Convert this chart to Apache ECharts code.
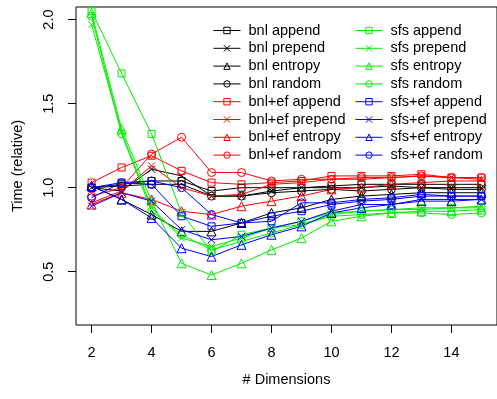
<!DOCTYPE html>
<html>
<head>
<meta charset="utf-8">
<script src="https://cdn.jsdelivr.net/npm/echarts@6/dist/echarts.min.js"></script>
<style>
  html, body { margin: 0; padding: 0; background: #fff; }
  #chart { width: 497px; height: 399px; }
</style>
</head>
<body>
<div id="chart"></div>
<script>
// # Dimensions
const dims = [2, 3, 4, 5, 6, 7, 8, 9, 10, 11, 12, 13, 14, 15];

// relative time per strategy
const bnlAppend    = [1.00, 1.02, 1.04, 1.04, 0.98, 1.00, 1.00, 1.00, 1.01, 1.02, 1.02, 1.02, 1.02, 1.02];
const bnlPrepend   = [1.00, 0.98, 1.11, 1.07, 0.95, 0.95, 0.98, 1.00, 1.00, 1.00, 1.01, 1.00, 1.00, 1.00];
const bnlEntropy   = [1.01, 0.93, 0.84, 0.74, 0.74, 0.79, 0.85, 0.88, 0.93, 0.95, 0.96, 0.97, 0.97, 0.97];
const bnlRandom    = [1.00, 1.01, 1.02, 1.02, 0.95, 0.95, 0.97, 0.98, 0.99, 0.98, 0.99, 1.00, 0.99, 0.99];
const efAppend     = [1.03, 1.12, 1.19, 1.10, 1.03, 1.02, 1.03, 1.04, 1.07, 1.07, 1.07, 1.08, 1.06, 1.06];
const efPrepend    = [0.91, 0.98, 1.13, 1.00, 0.95, 0.96, 1.02, 1.03, 1.05, 1.05, 1.06, 1.07, 1.06, 1.05];
const efEntropy    = [0.90, 0.97, 0.93, 0.86, 0.84, 0.89, 0.92, 0.95, 0.99, 1.00, 1.02, 1.03, 1.04, 1.04];
const efRandom     = [0.95, 1.00, 1.20, 1.30, 1.09, 1.09, 1.04, 1.05, 1.05, 1.06, 1.06, 1.07, 1.06, 1.06];
const sfsAppend    = [2.05, 1.68, 1.32, 0.85, 0.62, 0.72, 0.76, 0.80, 0.85, 0.86, 0.87, 0.88, 0.88, 0.88];
const sfsPrepend   = [1.97, 1.33, 0.88, 0.70, 0.65, 0.70, 0.76, 0.78, 0.84, 0.86, 0.87, 0.87, 0.88, 0.89];
const sfsEntropy   = [2.04, 1.35, 0.92, 0.55, 0.48, 0.55, 0.63, 0.70, 0.80, 0.83, 0.85, 0.86, 0.86, 0.87];
const sfsRandom    = [2.02, 1.32, 0.86, 0.72, 0.63, 0.68, 0.73, 0.78, 0.83, 0.84, 0.85, 0.85, 0.84, 0.85];
const sefAppend    = [1.00, 1.03, 1.02, 0.83, 0.77, 0.79, 0.83, 0.86, 0.90, 0.92, 0.93, 0.95, 0.95, 0.95];
const sefPrepend   = [0.89, 0.97, 0.92, 0.75, 0.69, 0.71, 0.76, 0.80, 0.86, 0.90, 0.90, 0.93, 0.93, 0.93];
const sefEntropy   = [1.01, 0.93, 0.82, 0.64, 0.59, 0.66, 0.72, 0.77, 0.85, 0.88, 0.90, 0.92, 0.92, 0.93];
const sefRandom    = [0.94, 1.03, 1.04, 1.00, 0.84, 0.79, 0.80, 0.91, 0.91, 0.93, 0.94, 0.96, 0.95, 0.95];

const xTicks = [2, 4, 6, 8, 10, 12, 14];
const yTicks = [0.5, 1.0, 1.5, 2.0];

const names = [
  'bnl append', 'bnl prepend', 'bnl entropy', 'bnl random',
  'bnl+ef append', 'bnl+ef prepend', 'bnl+ef entropy', 'bnl+ef random',
  'sfs append', 'sfs prepend', 'sfs entropy', 'sfs random',
  'sfs+ef append', 'sfs+ef prepend', 'sfs+ef entropy', 'sfs+ef random'
];
const values = [
  bnlAppend, bnlPrepend, bnlEntropy, bnlRandom,
  efAppend, efPrepend, efEntropy, efRandom,
  sfsAppend, sfsPrepend, sfsEntropy, sfsRandom,
  sefAppend, sefPrepend, sefEntropy, sefRandom
];
const colors = ['#000000', '#ff0000', '#00ee00', '#0000ff'];

// R pch 0, 4, 2, 1
const symbols = [
  { s: 'rect', size: 7 },
  { s: 'path://M0,0L10,10M10,0L0,10', size: 7 },
  { s: 'triangle', size: 9 },
  { s: 'circle', size: 8 }
];

const FONT = 'Liberation Sans, Arial, Helvetica, sans-serif';

const series = names.map((name, i) => {
  const col = colors[Math.floor(i / 4)];
  const sym = symbols[i % 4];
  return {
    name,
    type: 'line',
    data: dims.map((d, k) => [d, values[i][k]]),
    symbol: sym.s,
    symbolSize: sym.size,
    showAllSymbol: true,
    lineStyle: { color: col, width: 1 },
    itemStyle: { color: 'rgba(0,0,0,0)', borderColor: col, borderWidth: 1 },
    emphasis: { disabled: true },
    z: 2
  };
});

const legendBase = {
  orient: 'vertical',
  top: 18,
  itemWidth: 27,
  itemHeight: 8,
  itemGap: 2.8,
  selectedMode: false,
  lineStyle: { width: 1 },
  itemStyle: { borderWidth: 1 },
  textStyle: { fontFamily: FONT, fontSize: 14.5, color: '#000', padding: [0, 0, 0, 3] }
};

const chart = echarts.init(document.getElementById('chart'), null, { renderer: 'canvas' });
chart.setOption({
  animation: false,
  backgroundColor: '#fff',
  grid: {
    left: 76, top: 7, right: -3, bottom: 74,
    show: true, borderColor: '#000', borderWidth: 1
  },
  legend: [
    Object.assign({}, legendBase, { left: 208, data: names.slice(0, 8) }),
    Object.assign({}, legendBase, { left: 350, data: names.slice(8) })
  ],
  xAxis: {
    type: 'value',
    min: 1.48,
    max: 15.52,
    name: '# Dimensions',
    nameLocation: 'middle',
    nameGap: 47,
    nameTextStyle: { fontFamily: FONT, fontSize: 14.5, color: '#000' },
    axisLine: { show: false },
    axisTick: { show: true, length: 8, lineStyle: { color: '#000' }, customValues: xTicks },
    axisLabel: { fontFamily: FONT, fontSize: 14.5, color: '#000', margin: 20, customValues: xTicks },
    splitLine: { show: false }
  },
  yAxis: {
    type: 'value',
    min: 0.183,
    max: 2.075,
    name: 'Time (relative)',
    nameLocation: 'middle',
    nameGap: 51,
    nameTextStyle: { fontFamily: FONT, fontSize: 14.5, color: '#000' },
    axisLine: { show: false },
    axisTick: { show: true, length: 8, lineStyle: { color: '#000' }, customValues: yTicks },
    axisLabel: {
      fontFamily: FONT, fontSize: 14.5, color: '#000', margin: 20, rotate: 90,
      customValues: yTicks,
      formatter: v => v.toFixed(1)
    },
    splitLine: { show: false }
  },
  series
});
</script>
</body>
</html>
